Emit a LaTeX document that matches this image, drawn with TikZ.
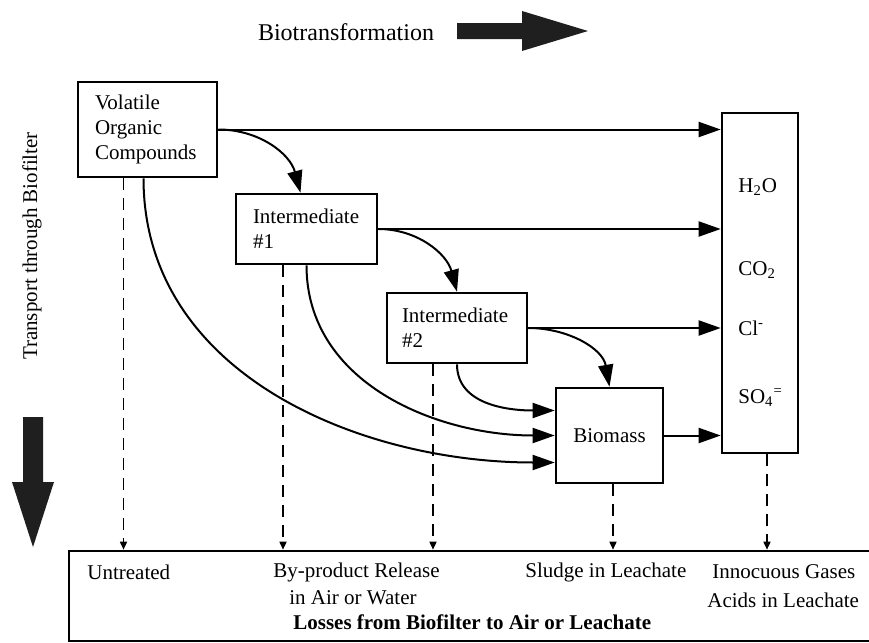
\documentclass[tikz,border=0pt]{standalone}
\usepackage{fontspec}
\setmainfont{Liberation Serif}
\usetikzlibrary{positioning,calc,arrows.meta}

\begin{document}
\begin{tikzpicture}[
    x=0.5pt, y=0.5pt,
    font=\fontsize{10.5}{12.5}\selectfont,
    stagebox/.style={draw, line width=1.3pt, align=left, inner xsep=8.5pt, inner ysep=0pt},
    flow/.style={line width=1pt, -{Triangle[length=11pt,width=7.5pt]}},
    loss/.style={line width=0.8pt, dash pattern=on 6pt off 4pt, -{Triangle[length=4pt,width=3.5pt]}},
    tag/.style={anchor=west, inner sep=0pt}
]
    \useasboundingbox (0,0) rectangle (869,-643);

    % Direction hints
    \node[font=\fontsize{12}{14}\selectfont] (title) at (346,-32) {Biotransformation};
    \fill[black!88] (457,-23) -- (522,-23) -- (522,-11) -- (588,-31) -- (522,-51) -- (522,-39) -- (457,-39) -- cycle;
    \node[rotate=90] (transport) at (32,-246) {Transport through Biofilter};
    \fill[black!88] (23,-417) -- (43,-417) -- (43,-482) -- (54,-482) -- (33,-547) -- (12,-482) -- (23,-482) -- cycle;

    % Stages
    \node[stagebox, text width=52.5pt, minimum height=47.5pt] (voc) at (147.5,-129.5) {Volatile\\Organic\\Compounds};
    \node[stagebox, text width=53.5pt, minimum height=35pt] (int1) at (306.5,-229) {Intermediate\\\#1};
    \node[stagebox, text width=55pt, inner xsep=7.5pt, minimum height=35pt] (int2) at (457,-328) {Intermediate\\\#2};
    \node[stagebox, align=center, inner xsep=0pt, minimum width=53.5pt, minimum height=47.5pt] (bio) at (609.5,-435.5) {Biomass};

    % End products
    \node[stagebox, minimum width=38pt, minimum height=170pt] (prod) at (760,-283) {};
    \node[tag] (h2o) at (738,-187) {H\textsubscript{2}O};
    \node[tag] (co2) at (738,-270) {CO\textsubscript{2}};
    \node[tag] (cl) at (738,-328) {Cl\textsuperscript{-}};
    \node[tag] (so4) at (738,-398) {SO\textsubscript{4}\textsuperscript{=}};

    % Losses
    \node[stagebox, minimum width=403pt, minimum height=45pt] (losses) at (472,-596) {};
    \node[tag] (untreated) at (87,-572) {Untreated};
    \node[tag] (byprod) at (273,-572) {By-product Release};
    \node[tag] (airwater) at (289,-598) {in Air or Water};
    \node[tag, font=\fontsize{10.5}{12.5}\selectfont\bfseries] (losstext) at (293,-622) {Losses from Biofilter to Air or Leachate};
    \node[tag] (sludge) at (525,-572) {Sludge in Leachate};
    \node[tag] (gases) at (712,-572) {Innocuous Gases};
    \node[tag] (acids) at (707,-600) {Acids in Leachate};

    % Biotransformation paths
    \draw[flow] (voc.east) -- (voc.east -| prod.west);
    \draw[flow] (voc.east) to[out=0, in=105] ([xshift=-3pt]int1.north);
    \draw[flow] (int1.east) -- (int1.east -| prod.west);
    \draw[flow] (int1.east) to[out=0, in=105] (int2.north);
    \draw[flow] (int2.east) -- (int2.east -| prod.west);
    \draw[flow] (int2.east) to[out=0, in=100] (bio.north);
    \draw[flow] (bio.east) -- (bio.east -| prod.west);
    \draw[flow] (int2.south) to[out=-90, in=180] ([yshift=12.5pt]bio.west);
    \draw[flow] (int1.south) to[out=-90, in=180] (bio.west);
    \draw[flow] ([xshift=-2pt]voc.south) to[out=-90, in=180] ([yshift=-13.5pt]bio.west);

    % Transport losses
    \coordinate (vocdrop) at ([xshift=-12pt]voc.south);
    \coordinate (int1drop) at ([xshift=-11.75pt]int1.south);
    \coordinate (int2drop) at ([xshift=-12pt]int2.south);
    \coordinate (biodrop) at ([xshift=1.75pt]bio.south);
    \coordinate (proddrop) at ([xshift=3.5pt]prod.south);
    \foreach \src in {vocdrop,int1drop,int2drop,biodrop,proddrop}
        \draw[loss] (\src) -- (\src |- losses.north);
\end{tikzpicture}
\end{document}
